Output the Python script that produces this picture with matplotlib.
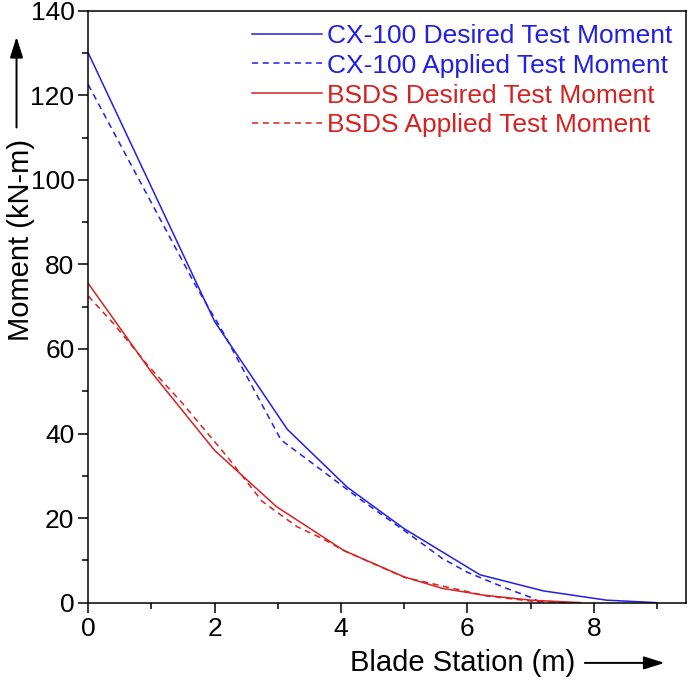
import matplotlib
matplotlib.use("Agg")
import matplotlib.pyplot as plt
from matplotlib.patches import FancyArrowPatch
from matplotlib.ticker import MultipleLocator

plt.rcParams["font.family"] = ["Liberation Sans", "DejaVu Sans"]

# CX-100 blade, desired and applied test moments
cx_desired_x = [0, 2.0, 3.15, 4.1, 5.0, 6.2, 7.2, 8.2, 9.0]
cx_desired_y = [130, 66.5, 41, 27.3, 17.5, 6.6, 2.8, 0.6, 0]
cx_applied_x = [0, 1.7, 2.15, 3.05, 3.5, 4.3, 5.1, 5.6, 6.0, 6.6, 7.05, 7.15]
cx_applied_y = [122.5, 75, 63.5, 38.5, 33.5, 24.5, 16, 10.5, 7.2, 3.5, 1.0, 0]

# BSDS blade, desired and applied test moments
bsds_desired_x = [0, 1.0, 2.0, 2.98, 4.05, 5.0, 5.6, 6.25, 7.0, 7.8]
bsds_desired_y = [75.5, 54.5, 36, 22.7, 12.3, 6.1, 3.4, 1.8, 0.6, 0]
bsds_applied_x = [0, 0.4, 0.95, 1.5, 2.2, 2.75, 3.3, 3.7, 4.05, 5.0, 6.3, 7.0, 7.6]
bsds_applied_y = [72.5, 66, 56, 47, 34.5, 24, 18, 15.2, 12.3, 6.0, 1.6, 0.4, 0]

blue = "#2020e6"
red = "#d62222"

fig = plt.figure(figsize=(6.88, 6.82), dpi=100)
ax = fig.add_axes([0.1283, 0.1163, 0.8687, 0.868])

ax.plot(cx_desired_x, cx_desired_y, color=blue, lw=1.1, label="CX-100 Desired Test Moment")
ax.plot(cx_applied_x, cx_applied_y, color=blue, lw=1.1, dashes=(4, 3), label="CX-100 Applied Test Moment")
ax.plot(bsds_desired_x, bsds_desired_y, color=red, lw=1.1, label="BSDS Desired Test Moment")
ax.plot(bsds_applied_x, bsds_applied_y, color=red, lw=1.1, dashes=(4, 3), label="BSDS Applied Test Moment")

ax.set_xlim(0, 9.46)
ax.set_ylim(0, 140)
ax.xaxis.set_major_locator(MultipleLocator(2))
ax.xaxis.set_minor_locator(MultipleLocator(1))
ax.yaxis.set_major_locator(MultipleLocator(20))
ax.yaxis.set_minor_locator(MultipleLocator(10))
ax.tick_params(which="major", direction="out", length=7, width=1.1, labelsize=19, pad=3)
ax.tick_params(which="minor", direction="out", length=4, width=1.1)
for s in ax.spines.values():
    s.set_linewidth(1.1)

leg = ax.legend(loc="upper right", frameon=False, fontsize=19, handlelength=2.65,
                handletextpad=0.2, labelspacing=0.22, borderaxespad=0.1,
                bbox_to_anchor=(1.0, 1.0))
for txt, line in zip(leg.get_texts(), leg.get_lines()):
    txt.set_color(line.get_color())

# axis labels with arrows
arrow_style = "-|>,head_length=0.7,head_width=0.22"
fig.text(0.03, 0.648, "Moment (kN-m)", rotation=90, ha="center", va="center", fontsize=21)
fig.add_artist(FancyArrowPatch(
    (0.024, 0.809), (0.024, 0.95), transform=fig.transFigure,
    arrowstyle=arrow_style, mutation_scale=18, lw=1.4, color="black"))
fig.text(0.673, 0.028, "Blade Station (m)", ha="center", va="center", fontsize=21)
fig.add_artist(FancyArrowPatch(
    (0.846, 0.028), (0.97, 0.028), transform=fig.transFigure,
    arrowstyle=arrow_style, mutation_scale=18, lw=1.4, color="black"))

fig.savefig("out.png", dpi=100)
